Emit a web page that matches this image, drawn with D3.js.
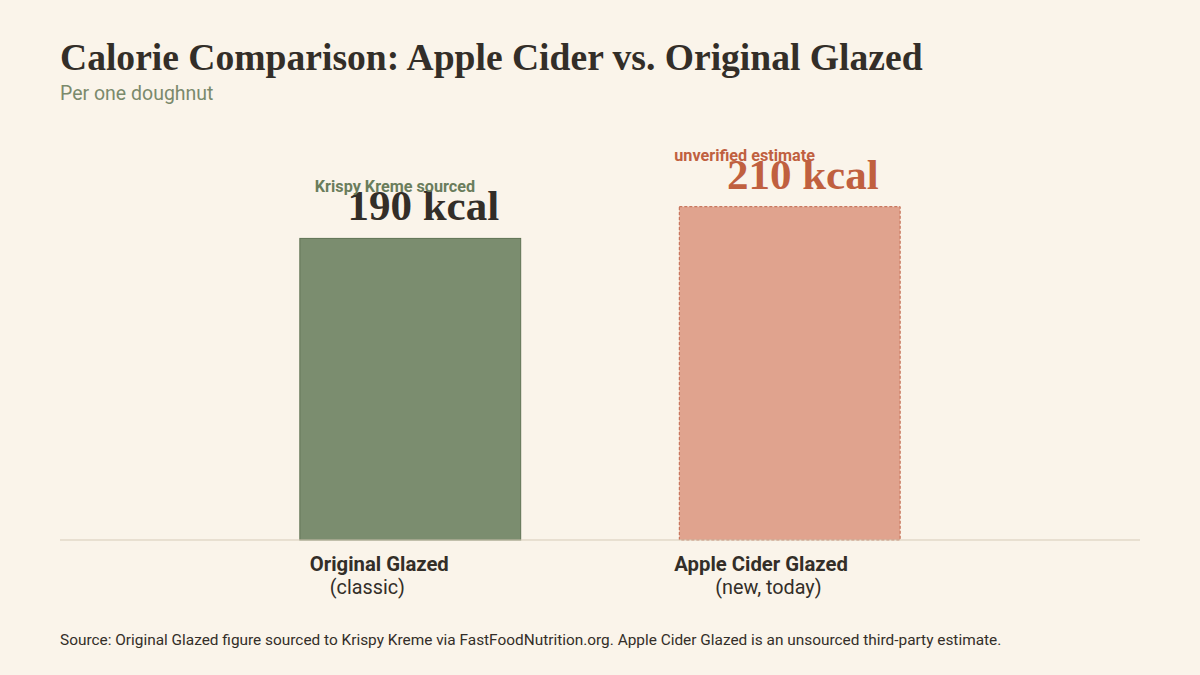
<!DOCTYPE html>
<html>
<head>
<meta charset="utf-8">
<script src="https://cdn.jsdelivr.net/npm/d3@7"></script>
<style>
  body { margin: 0; background: #faf4ea; }
  svg { display: block; }
</style>
</head>
<body>
<div id="chart"></div>
<script>
// data
const categories = ["Original Glazed", "Apple Cider Glazed"];
const subLabels = ["(classic)", "(new, today)"];
const kcal = [190, 210];
const notes = ["Krispy Kreme sourced", "unverified estimate"];

const width = 1200, height = 675;
const margin = {top: 140, right: 60, bottom: 135, left: 60};
const serif = "'Liberation Serif', 'DejaVu Serif', serif";
const sans = "'Roboto', 'Noto Sans', sans-serif";

const svg = d3.select("#chart")
  .append("svg")
    .attr("width", width)
    .attr("height", height);

svg.append("rect").attr("width", width).attr("height", height).attr("fill", "#faf4ea");

// scales
const x = d3.scaleBand()
  .domain(categories)
  .range([margin.left, width - margin.right])
  .paddingInner(0.418)
  .paddingOuter(0.632);

const y = d3.scaleLinear()
  .domain([0, 252])
  .range([height - margin.bottom, margin.top]);

// title + subtitle
svg.append("text")
  .attr("x", 60).attr("y", 70)
  .attr("font-family", serif).attr("font-weight", "bold")
  .attr("font-size", 37.6).attr("fill", "#332e28")
  .text("Calorie Comparison: Apple Cider vs. Original Glazed");

svg.append("text")
  .attr("x", 60).attr("y", 100)
  .attr("font-family", sans).attr("font-size", 19.5).attr("fill", "#7a8a6c")
  .text("Per one doughnut");

// bars
const fills = ["#7b8d6f", "#e0a38e"];
const strokes = ["#5f7254", "#c0654a"];
const dashes = [null, "3,2"];

svg.selectAll(".bar")
  .data(categories)
  .join("rect")
    .attr("class", "bar")
    .attr("x", d => x(d))
    .attr("y", (d, i) => y(kcal[i]))
    .attr("width", x.bandwidth())
    .attr("height", (d, i) => y(0) - y(kcal[i]))
    .attr("fill", (d, i) => fills[i])
    .attr("stroke", (d, i) => strokes[i])
    .attr("stroke-width", 1)
    .attr("stroke-dasharray", (d, i) => dashes[i]);

// baseline
svg.append("line")
  .attr("x1", margin.left).attr("x2", width - margin.right)
  .attr("y1", y(0)).attr("y2", y(0))
  .attr("stroke", "#d6cbb8").attr("stroke-width", 1);

// value labels
const valueColors = ["#332e28", "#c0603f"];
svg.selectAll(".val")
  .data(categories)
  .join("text")
    .attr("class", "val")
    .attr("x", d => x(d) + x.bandwidth() / 2 + 13)
    .attr("y", (d, i) => y(kcal[i]) - 18)
    .attr("text-anchor", "middle")
    .attr("font-family", serif).attr("font-weight", "bold")
    .attr("font-size", 43)
    .attr("fill", (d, i) => valueColors[i])
    .text((d, i) => kcal[i] + " kcal");

// small notes above the bars
const noteColors = ["#6a7d5c", "#c0603f"];
const noteDx = [15, -5];
const noteDy = [-46, -46];
svg.selectAll(".note")
  .data(categories)
  .join("text")
    .attr("class", "note")
    .attr("x", (d, i) => x(d) + noteDx[i])
    .attr("y", (d, i) => y(kcal[i]) + noteDy[i])
    .attr("font-family", sans).attr("font-weight", "bold")
    .attr("font-size", 16.2)
    .attr("fill", (d, i) => noteColors[i])
    .text((d, i) => notes[i]);

// category labels
const catDx = [10, -5];
const subDx = [30, 36];
svg.selectAll(".cat")
  .data(categories)
  .join("text")
    .attr("class", "cat")
    .attr("x", (d, i) => x(d) + catDx[i])
    .attr("y", y(0) + 31)
    .attr("font-family", sans).attr("font-weight", "bold")
    .attr("font-size", 20.3).attr("fill", "#332e28")
    .text(d => d);

svg.selectAll(".sub")
  .data(categories)
  .join("text")
    .attr("class", "sub")
    .attr("x", (d, i) => x(d) + subDx[i])
    .attr("y", y(0) + 54)
    .attr("font-family", sans)
    .attr("font-size", 19.8).attr("fill", "#332e28")
    .text((d, i) => subLabels[i]);

// source
svg.append("text")
  .attr("x", 60).attr("y", 645)
  .attr("font-family", sans).attr("font-size", 15.4).attr("fill", "#332e28")
  .text("Source: Original Glazed figure sourced to Krispy Kreme via FastFoodNutrition.org. Apple Cider Glazed is an unsourced third-party estimate.");
</script>
</body>
</html>
